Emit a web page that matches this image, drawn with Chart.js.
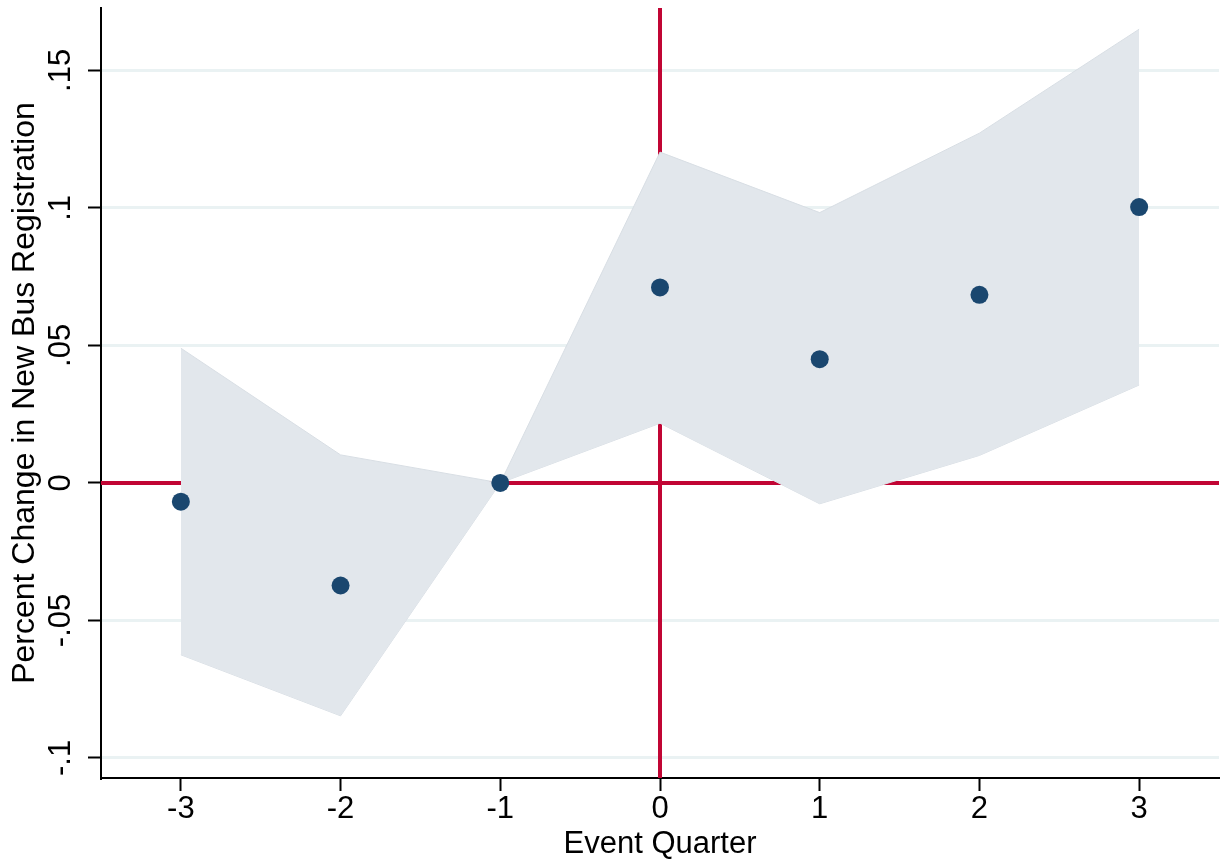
<!DOCTYPE html>
<html>
<head>
<meta charset="utf-8">
<script src="https://cdn.jsdelivr.net/npm/chart.js@4.4.1/dist/chart.umd.min.js"></script>
<style>
html, body { margin: 0; padding: 0; background: #fff; }
#wrap { width: 1220px; height: 865px; }
</style>
</head>
<body>
<div id="wrap"><canvas id="event_chart"></canvas></div>
<script>
// event study estimates
const quarters = [-3, -2, -1, 0, 1, 2, 3];
const estimates = [-0.0068, -0.0373, 0, 0.0711, 0.0450, 0.0684, 0.1003];
const ci_upper = [0.0490, 0.0102, 0, 0.1203, 0.0983, 0.1272, 0.1650];
const ci_lower = [-0.0625, -0.0847, 0, 0.0217, -0.0076, 0.0100, 0.0356];

const x_ticks = [-3, -2, -1, 0, 1, 2, 3];
const y_ticks = [-0.1, -0.05, 0, 0.05, 0.1, 0.15];
const y_tick_labels = ["-.1", "-.05", "0", ".05", ".1", ".15"];

const x_min = -3.5, x_max = 3.5;
const y_min = -0.1073, y_max = 0.1727;

const toPoints = (vals) => quarters.map((q, i) => ({x: q, y: vals[i]}));

const font_name = "'Liberation Sans', Arial, sans-serif";
const ctx = document.getElementById("event_chart").getContext("2d");

let my_chart = new Chart(ctx, {
    type: 'scatter',
    data: {
        datasets: [{
            // point estimates
            data: toPoints(estimates),
            pointRadius: 9,
            pointHoverRadius: 9,
            backgroundColor: '#1a476f',
            borderWidth: 0,
            showLine: false,
            order: 0
        }, {
            // upper CI, filled down to the lower CI
            type: 'line',
            data: toPoints(ci_upper),
            borderColor: '#d8dee4',
            borderWidth: 1,
            backgroundColor: '#e2e7ec',
            pointRadius: 0,
            fill: '+1',
            tension: 0,
            order: 1
        }, {
            type: 'line',
            data: toPoints(ci_lower),
            borderColor: '#d8dee4',
            borderWidth: 1,
            pointRadius: 0,
            fill: false,
            tension: 0,
            order: 1
        }, {
            // y = 0 reference line
            type: 'line',
            data: [{x: x_min, y: 0}, {x: x_max, y: 0}],
            borderColor: '#c10534',
            borderWidth: 4,
            pointRadius: 0,
            fill: false,
            order: 2
        }, {
            // x = 0 reference line
            type: 'line',
            data: [{x: 0, y: y_min}, {x: 0, y: y_max}],
            borderColor: '#c10534',
            borderWidth: 4,
            pointRadius: 0,
            fill: false,
            order: 2
        }]
    },
    options: {
        responsive: true,
        maintainAspectRatio: false,
        animation: false,
        events: [],
        layout: {
            autoPadding: false,
            padding: { left: 0, right: 1, top: 8, bottom: 0 }
        },
        plugins: {
            legend: { display: false },
            tooltip: { enabled: false }
        },
        scales: {
            x: {
                type: 'linear',
                min: x_min,
                max: x_max,
                afterBuildTicks: (s) => { s.ticks = x_ticks.map(v => ({value: v})); },
                afterFit: (s) => {
                    s.height = 87;
                    s.paddingLeft = 0;
                    s.paddingRight = 0;
                },
                border: { color: '#000', width: 2 },
                grid: {
                    drawOnChartArea: false,
                    drawTicks: true,
                    tickLength: 13,
                    tickColor: '#000',
                    tickWidth: 2
                },
                ticks: {
                    callback: (v) => String(v),
                    padding: 0,
                    color: '#000',
                    maxRotation: 0,
                    font: { family: font_name, size: 31 }
                },
                title: {
                    display: true,
                    text: 'Event Quarter',
                    color: '#000',
                    font: { family: font_name, size: 31 },
                    padding: { top: 0, bottom: 2.4 }
                }
            },
            y: {
                type: 'linear',
                min: y_min,
                max: y_max,
                afterBuildTicks: (s) => { s.ticks = y_ticks.map(v => ({value: v})); },
                afterFit: (s) => {
                    s.width = 101;
                    s.paddingTop = 0;
                    s.paddingBottom = 0;
                },
                border: { color: '#000', width: 2 },
                grid: {
                    color: '#eaf2f3',
                    lineWidth: 3,
                    tickLength: 13,
                    tickColor: '#000',
                    tickWidth: 2
                },
                ticks: {
                    callback: (v, i) => y_tick_labels[i],
                    minRotation: 90,
                    maxRotation: 90,
                    crossAlign: 'center',
                    padding: 0,
                    color: '#000',
                    font: { family: font_name, size: 31 }
                },
                title: {
                    display: true,
                    text: 'Percent Change in New Bus Registration',
                    color: '#000',
                    font: { family: font_name, size: 32 },
                    padding: { top: 6.3, bottom: 0 }
                }
            }
        }
    }
});
</script>
</body>
</html>
